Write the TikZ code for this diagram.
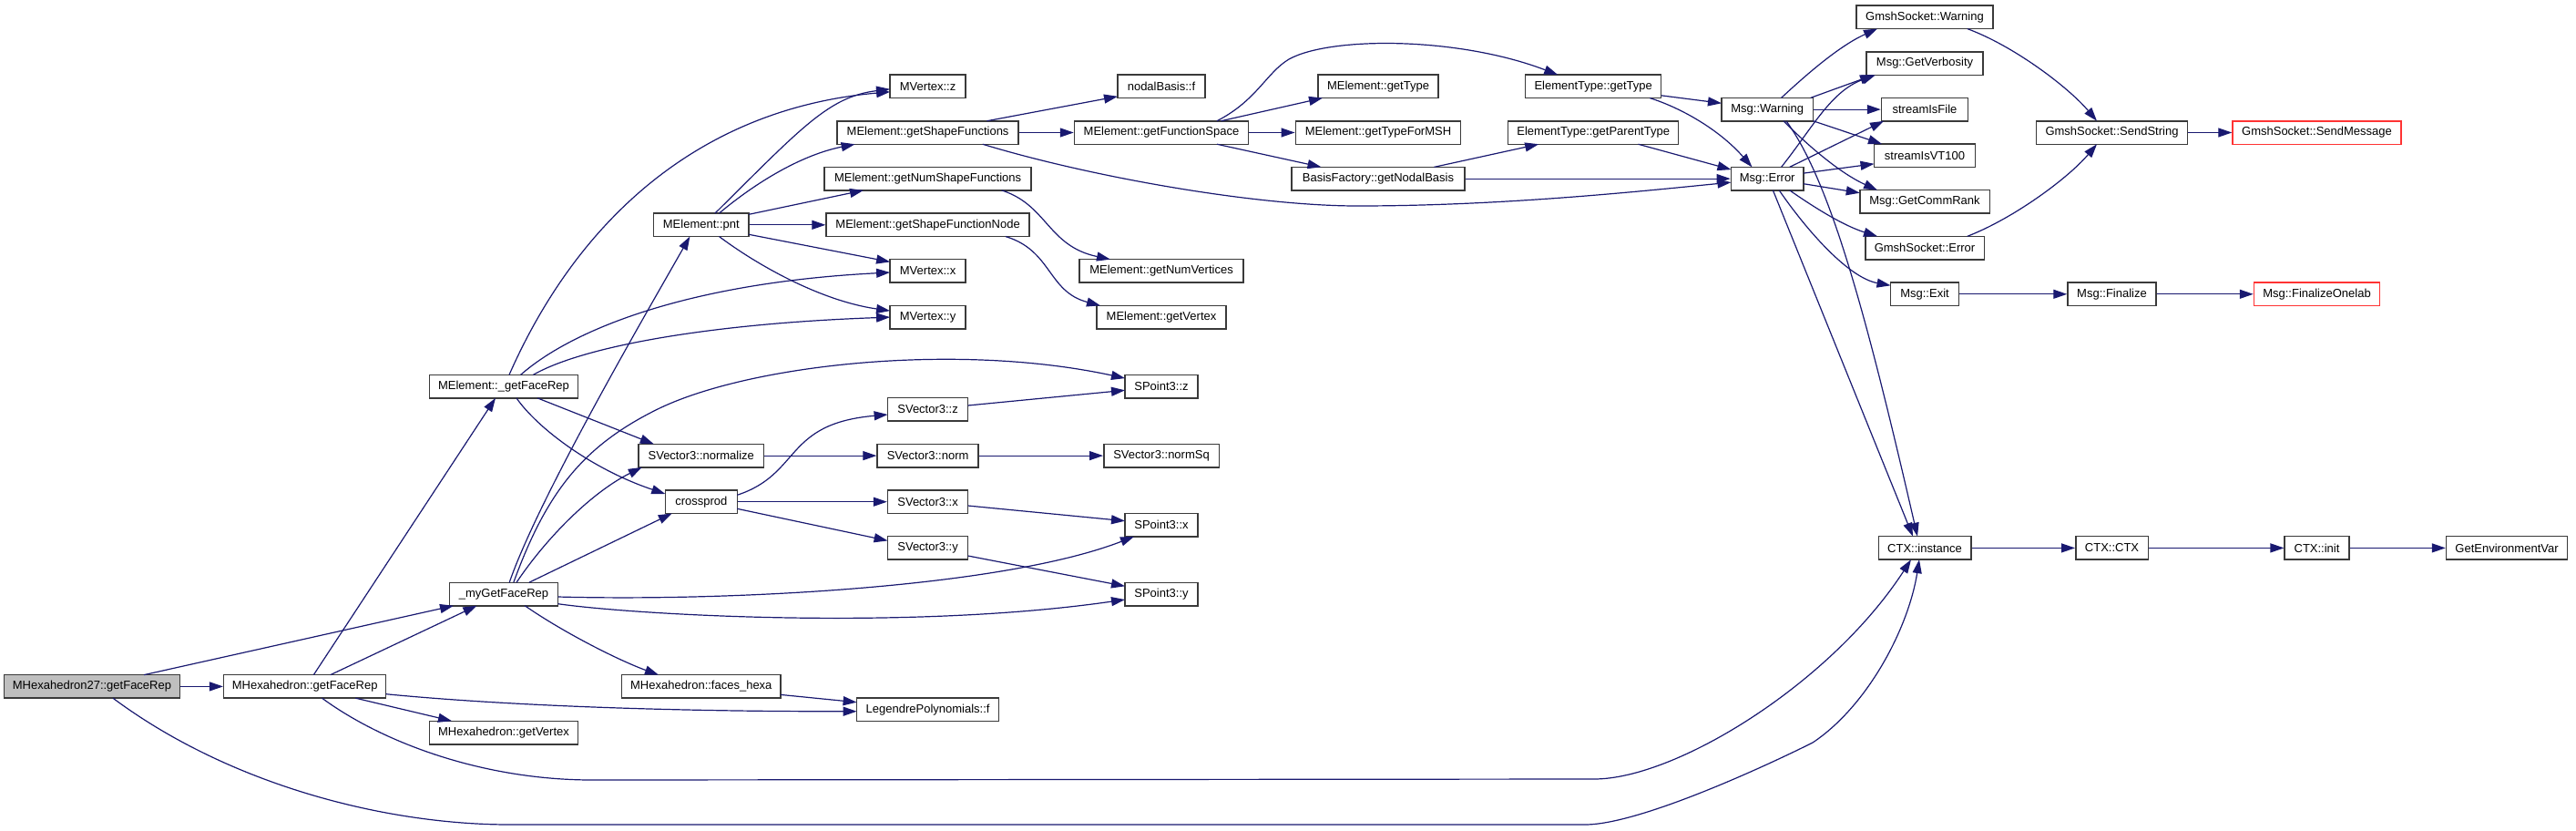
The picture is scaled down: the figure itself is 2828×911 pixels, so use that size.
\documentclass[tikz,border=0pt]{standalone}
\usepackage{fontspec}
\setmainfont{Liberation Sans}
\usetikzlibrary{arrows.meta,calc}
\definecolor{edgeblue}{HTML}{191970}
\definecolor{boxline}{HTML}{3A3A3A}
\definecolor{redline}{HTML}{FF3333}
\definecolor{rootfill}{HTML}{BFBFBF}
\newcommand{\nfont}{\fontsize{13}{15}\selectfont}
\begin{document}
\begin{tikzpicture}[x=1pt,y=-1pt,
  box/.style={draw=boxline, fill=white, line width=1.5pt, minimum height=25.5pt, inner sep=0pt, font=\nfont},
  redbox/.style={box, draw=redline},
  rootbox/.style={box, fill=rootfill},
  e/.style={draw=edgeblue, line width=1.2pt, -{Triangle[length=15pt,width=10pt]}},
]
\useasboundingbox (0,0) rectangle (2828,911);
% nodes
\node[rootbox, minimum width=193pt] (n27) at (101,753.4) {MHexahedron27::getFaceRep};
\node[box, minimum width=178pt] (hexFR) at (334.7,753.4) {MHexahedron::getFaceRep};
\node[box, minimum width=163pt] (elFR) at (553,424.1) {MElement::\_getFaceRep};
\node[box, minimum width=119pt] (myFR) at (553,652.0) {\_myGetFaceRep};
\node[box, minimum width=163pt] (hexV) at (553,804.0) {MHexahedron::getVertex};
\node[box, minimum width=104.6pt] (pnt) at (769.8,246.8) {MElement::pnt};
\node[box, minimum width=137.7pt] (norm) at (769.8,500.1) {SVector3::normalize};
\node[box, minimum width=79pt] (cross) at (769.8,550.7) {crossprod};
\node[box, minimum width=174.3pt] (faces) at (769.8,753.4) {MHexahedron::faces\_hexa};
\node[box, minimum width=83pt] (vz) at (1018.6,94.8) {MVertex::z};
\node[box, minimum width=199pt] (shapeF) at (1018.6,145.5) {MElement::getShapeFunctions};
\node[box, minimum width=227pt] (numShape) at (1018.6,196.1) {MElement::getNumShapeFunctions};
\node[box, minimum width=223pt] (shapeNode) at (1018.6,246.8) {MElement::getShapeFunctionNode};
\node[box, minimum width=83pt] (vx) at (1018.6,297.4) {MVertex::x};
\node[box, minimum width=83pt] (vy) at (1018.6,348.1) {MVertex::y};
\node[box, minimum width=88pt] (sv3z) at (1018.6,449.4) {SVector3::z};
\node[box, minimum width=111pt] (sv3norm) at (1018.6,500.1) {SVector3::norm};
\node[box, minimum width=88pt] (sv3x) at (1018.6,550.7) {SVector3::x};
\node[box, minimum width=88pt] (sv3y) at (1018.6,601.4) {SVector3::y};
\node[box, minimum width=156pt] (leg) at (1018.6,778.7) {LegendrePolynomials::f};
\node[box, minimum width=96pt] (nodal) at (1275,94.8) {nodalBasis::f};
\node[box, minimum width=191pt] (funcSp) at (1275,145.5) {MElement::getFunctionSpace};
\node[box, minimum width=180pt] (numVert) at (1275,297.4) {MElement::getNumVertices};
\node[box, minimum width=142pt] (getVert) at (1275,348.1) {MElement::getVertex};
\node[box, minimum width=80pt] (sp3z) at (1275,424.1) {SPoint3::z};
\node[box, minimum width=126.5pt] (normSq) at (1275,500.1) {SVector3::normSq};
\node[box, minimum width=80pt] (sp3x) at (1275,576.1) {SPoint3::x};
\node[box, minimum width=80pt] (sp3y) at (1275,652.0) {SPoint3::y};
\node[box, minimum width=132pt] (getType) at (1513,94.8) {MElement::getType};
\node[box, minimum width=181.4pt] (typeMSH) at (1513,145.5) {MElement::getTypeForMSH};
\node[box, minimum width=190pt] (nodalB) at (1513,196.1) {BasisFactory::getNodalBasis};
\node[box, minimum width=149pt] (etType) at (1749.2,94.8) {ElementType::getType};
\node[box, minimum width=187pt] (etParent) at (1749.2,145.5) {ElementType::getParentType};
\node[box, minimum width=100.5pt] (warn) at (1940.2,120.1) {Msg::Warning};
\node[box, minimum width=79.5pt] (err) at (1940.2,196.1) {Msg::Error};
\node[box, minimum width=150pt] (gsWarn) at (2113,18.8) {GmshSocket::Warning};
\node[box, minimum width=128pt] (verb) at (2113,69.5) {Msg::GetVerbosity};
\node[box, minimum width=95pt] (sFile) at (2113,120.1) {streamIsFile};
\node[box, minimum width=111pt] (sVT) at (2113,170.8) {streamIsVT100};
\node[box, minimum width=142.5pt] (rank) at (2113,221.4) {Msg::GetCommRank};
\node[box, minimum width=130.5pt] (gsErr) at (2113,272.1) {GmshSocket::Error};
\node[box, minimum width=75pt] (exit) at (2113,322.8) {Msg::Exit};
\node[box, minimum width=101.5pt] (ctxI) at (2113,601.4) {CTX::instance};
\node[box, minimum width=166pt] (sendStr) at (2318.5,145.5) {GmshSocket::SendString};
\node[box, minimum width=97pt] (fin) at (2318.5,322.8) {Msg::Finalize};
\node[box, minimum width=79.5pt] (ctx) at (2318.5,601.4) {CTX::CTX};
\node[redbox, minimum width=185pt] (sendMsg) at (2543.5,145.5) {GmshSocket::SendMessage};
\node[redbox, minimum width=138pt] (finOne) at (2543.5,322.8) {Msg::FinalizeOnelab};
\node[box, minimum width=70.6pt] (init) at (2543.5,601.4) {CTX::init};
\node[box, minimum width=133pt] (env) at (2752,601.4) {GetEnvironmentVar};
% edges
\draw[e] (n27) -- (hexFR);
\draw[e] ($(n27)+(57,-12.75)$) -- ($(myFR)+(-55,12.75)$);
\draw[e] ($(hexFR)+(9.6,-12.75)$) -- ($(elFR)+(-9,12.75)$);
\draw[e] ($(hexFR)+(28,-12.75)$) -- ($(myFR)+(-29.6,12.75)$);
\draw[e] ($(hexFR)+(55.6,12.75)$) -- ($(hexV)+(-57,-12.75)$);
\draw[e] ($(hexFR)+(89,8.3)$) .. controls (560,775) and (750,781) .. ($(leg)+(-78,2)$);
\draw[e] ($(hexFR)+(18.8,12.75)$) .. controls (420,815) and (530,856) .. (650,856) -- (1750,855) .. controls (1840,855) and (2010,750) .. ($(ctxI)+(-15,12.75)$);
\draw[e] ($(n27)+(23,12.75)$) .. controls (250,860) and (420,905) .. (560,905) -- (1740,905) .. controls (1800,905) and (1940,840) .. (1990,815) .. controls (2050,775) and (2095,690) .. ($(ctxI)+(-6,12.75)$);
\draw[e] ($(elFR)+(6,-12.75)$) .. controls (630,250) and (760,120) .. ($(vz)+(-41.5,6)$);
\draw[e] ($(pnt)+(15.2,-12.75)$) .. controls (880,140) and (910,106) .. ($(vz)+(-41.5,3)$);
\draw[e] ($(pnt)+(19.7,-12.75)$) .. controls (830,200) and (880,170) .. ($(shapeF)+(-80,12.75)$);
\draw[e] ($(pnt)+(52.3,-11.5)$) -- ($(numShape)+(-70.6,12.75)$);
\draw[e] (pnt) -- (shapeNode);
\draw[e] ($(pnt)+(52.3,10.5)$) -- ($(vx)+(-41.5,-10)$);
\draw[e] ($(pnt)+(19.7,12.75)$) .. controls (830,290) and (900,330) .. ($(vy)+(-41.5,-7)$);
\draw[e] ($(elFR)+(18.6,-12.75)$) .. controls (630,360) and (760,310) .. ($(vx)+(-41.5,1.6)$);
\draw[e] ($(elFR)+(32.4,-12.75)$) .. controls (640,380) and (780,355) .. ($(vy)+(-41.5,0)$);
\draw[e] ($(elFR)+(37,12.75)$) -- ($(norm)+(-52,-12.75)$);
\draw[e] ($(elFR)+(14,12.75)$) .. controls (590,470) and (650,515) .. ($(cross)+(-39.5,-8.7)$);
\draw[e] ($(myFR)+(6.2,-12.75)$) .. controls (590,550) and (700,360) .. ($(pnt)+(-12.4,12.75)$);
\draw[e] ($(myFR)+(14,-12.75)$) .. controls (600,590) and (650,540) .. ($(norm)+(-65,12.75)$);
\draw[e] ($(myFR)+(10.8,-12.75)$) .. controls (600,540) and (640,490) .. (720,450) .. controls (820,400) and (1050,375) .. ($(sp3z)+(-40,-9)$);
\draw[e] ($(myFR)+(27.8,-12.75)$) -- ($(cross)+(-32,12.75)$);
\draw[e] ($(myFR)+(59.5,3)$) .. controls (800,660) and (1100,645) .. ($(sp3x)+(-30,12.75)$);
\draw[e] ($(myFR)+(59.5,10.7)$) .. controls (700,675) and (1000,692) .. ($(sp3y)+(-40,6)$);
\draw[e] ($(myFR)+(23.2,12.75)$) .. controls (620,695) and (680,725) .. ($(faces)+(-46.8,-12.75)$);
\draw[e] ($(faces)+(87.2,9)$) -- ($(leg)+(-78,-8)$);
\draw[e] ($(shapeF)+(64.8,-12.75)$) -- ($(nodal)+(-48,11)$);
\draw[e] (shapeF) -- (funcSp);
\draw[e] ($(shapeF)+(60.2,12.75)$) .. controls (1200,195) and (1380,226) .. (1490,226) .. controls (1650,226) and (1800,210) .. ($(err)+(-39.75,4)$);
\draw[e] ($(funcSp)+(61,-12.75)$) .. controls (1380,110) and (1390,80) .. (1415,65) .. controls (1460,40) and (1600,40) .. ($(etType)+(-39,-12.75)$);
\draw[e] ($(funcSp)+(65.5,-12.75)$) -- ($(getType)+(-61,12.75)$);
\draw[e] (funcSp) -- (typeMSH);
\draw[e] ($(funcSp)+(61,12.75)$) -- ($(nodalB)+(-62.5,-12.75)$);
\draw[e] ($(numShape)+(81,12.75)$) .. controls (1150,225) and (1150,270) .. ($(numVert)+(-56,-12.75)$);
\draw[e] ($(shapeNode)+(85.4,12.75)$) .. controls (1155,275) and (1150,320) .. ($(getVert)+(-67,-12.75)$);
\draw[e] (norm) -- (sv3norm);
\draw[e] (sv3norm) -- (normSq);
\draw[e] ($(cross)+(39.5,-7.4)$) .. controls (880,520) and (860,465) .. ($(sv3z)+(-44,5.6)$);
\draw[e] (cross) -- (sv3x);
\draw[e] ($(cross)+(39.5,7.6)$) -- ($(sv3y)+(-44,-8)$);
\draw[e] ($(sv3z)+(44,-4.4)$) -- ($(sp3z)+(-40,4.2)$);
\draw[e] ($(sv3x)+(44,4.3)$) -- ($(sp3x)+(-40,-4.4)$);
\draw[e] ($(sv3y)+(44,8.6)$) -- ($(sp3y)+(-40,-8.7)$);
\draw[e] ($(nodalB)+(61.5,-12.75)$) -- ($(etParent)+(-60,12.75)$);
\draw[e] (nodalB) -- (err);
\draw[e] ($(etType)+(74.5,10)$) -- ($(warn)+(-50.25,-6.8)$);
\draw[e] ($(etType)+(62,12.75)$) .. controls (1850,120) and (1890,145) .. ($(err)+(-16.8,-12.75)$);
\draw[e] ($(etParent)+(49.3,12.75)$) -- ($(err)+(-39.75,-10)$);
\draw[e] ($(warn)+(15.4,-12.75)$) .. controls (1985,80) and (2020,50) .. ($(gsWarn)+(-52,12.75)$);
\draw[e] ($(warn)+(47.5,-12.75)$) -- ($(verb)+(-56,12.75)$);
\draw[e] (warn) -- (sFile);
\draw[e] ($(warn)+(50.25,12.6)$) -- ($(sVT)+(-47,-12.75)$);
\draw[e] ($(warn)+(17.8,12.75)$) .. controls (1985,160) and (2020,190) .. ($(rank)+(-52,-12.75)$);
\draw[e] ($(warn)+(20.8,12.75)$) .. controls (2010,200) and (2050,350) .. ($(ctxI)+(-8,-12.75)$);
\draw[e] ($(err)+(15.4,-12.75)$) .. controls (1990,140) and (2010,100) .. ($(verb)+(-54,12.75)$);
\draw[e] ($(err)+(24.5,-12.75)$) -- ($(sFile)+(-45,12.75)$);
\draw[e] ($(err)+(39.75,-6)$) -- ($(sVT)+(-55.5,9)$);
\draw[e] ($(err)+(39.75,5.6)$) -- ($(rank)+(-71.25,-9.7)$);
\draw[e] ($(err)+(24.5,12.75)$) .. controls (1995,230) and (2025,248) .. ($(gsErr)+(-52,-12.75)$);
\draw[e] ($(err)+(13,12.75)$) .. controls (1985,255) and (2030,305) .. ($(exit)+(-37.5,-9.5)$);
\draw[e] ($(err)+(6.2,12.75)$) -- ($(ctxI)+(-13,-12.75)$);
\draw[e] ($(gsWarn)+(46.7,12.75)$) .. controls (2210,50) and (2270,95) .. ($(sendStr)+(-16.5,-12.75)$);
\draw[e] ($(gsErr)+(46.7,-12.75)$) .. controls (2210,240) and (2270,196) .. ($(sendStr)+(-16.5,12.75)$);
\draw[e] (sendStr) -- (sendMsg);
\draw[e] (exit) -- (fin);
\draw[e] (fin) -- (finOne);
\draw[e] (ctxI) -- (ctx);
\draw[e] (ctx) -- (init);
\draw[e] (init) -- (env);
\end{tikzpicture}
\end{document}
